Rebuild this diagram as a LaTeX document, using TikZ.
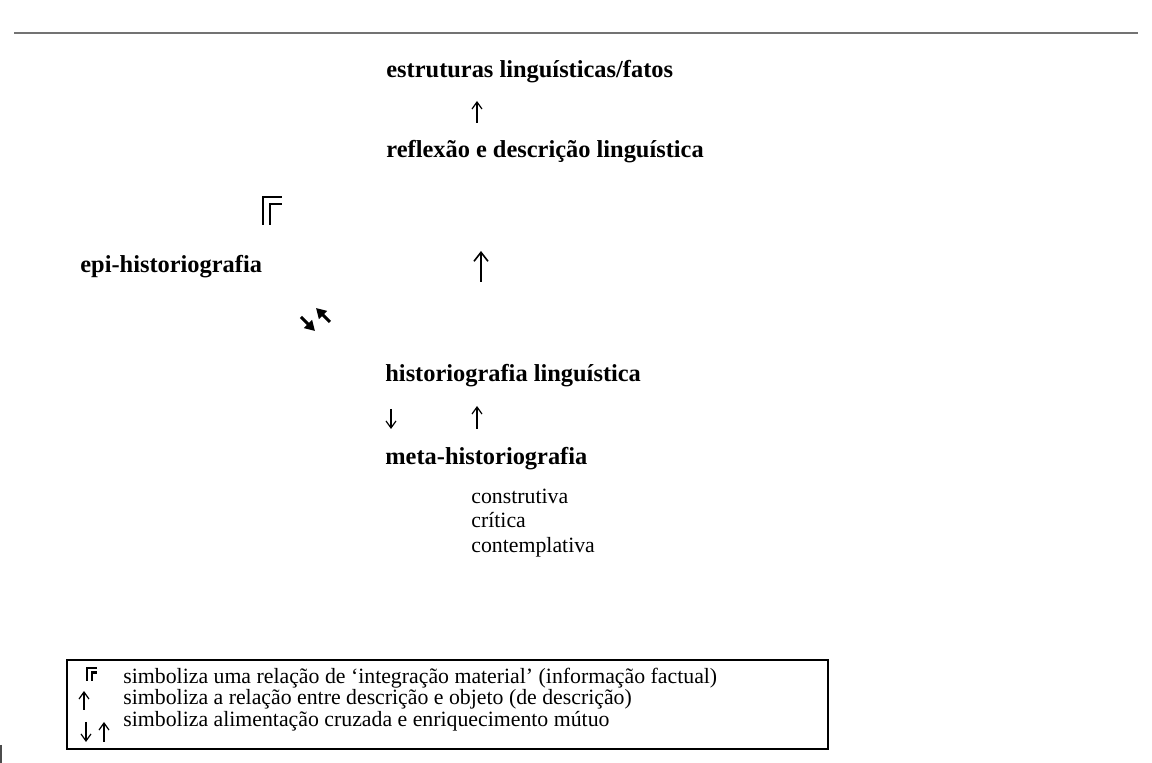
\documentclass[tikz,border=0pt]{standalone}
\usepackage{fontspec}
\setmainfont{Liberation Serif}
\usetikzlibrary{arrows.meta}

\begin{document}
\begin{tikzpicture}[x=0.5pt, y=-0.5pt,
                    title/.style={anchor=base west, inner sep=0pt, font=\bfseries\fontsize{12.2}{14}\selectfont},
                    item/.style={anchor=base west, inner sep=0pt, font=\fontsize{10.9}{13}\selectfont},
                    thinarrow/.style={line width=0.6pt, -{Straight Barb[length=3.5pt,width=5pt]}},
                    bigarrow/.style={line width=0.8pt, -{Straight Barb[length=4.5pt,width=7pt]}},
                    crossarrow/.style={line width=1.5pt, -{Triangle[length=5pt,width=5.5pt]}},
                    corner/.style={line width=1.4pt, line cap=butt, line join=miter}]
  \useasboundingbox (0,0) rectangle (1152,763);
  \draw[line width=1pt, black!55] (14,33) -- (1138,33);
  % levels
  \node[title] (fatos) at (386,78) {estruturas linguísticas/fatos};
  \node[title] (reflexao) at (386,158) {reflexão e descrição linguística};
  \node[title] (epi) at (80,273) {epi-historiografia};
  \node[title] (histling) at (385,382) {historiografia linguística};
  \node[title] (meta) at (385,465) {meta-historiografia};
  \node[item] (construtiva) at (471,504) {construtiva};
  \node[item] (critica) at (471,528) {crítica};
  \node[item] (contemplativa) at (471,553) {contemplativa};
  % arrows
  \coordinate (up1s) at (477,123);
  \coordinate (up1e) at (477,101);
  \draw[thinarrow] (up1s) -- (up1e);
  \coordinate (up2s) at (481,282);
  \coordinate (up2e) at (481,251);
  \draw[bigarrow] (up2s) -- (up2e);
  \coordinate (dgs) at (301,317);
  \coordinate (dge) at (315,331);
  \draw[crossarrow] (dgs) -- (dge);
  \coordinate (ugs) at (330,322);
  \coordinate (uge) at (316,308);
  \draw[crossarrow] (ugs) -- (uge);
  \coordinate (dns) at (391,409);
  \coordinate (dne) at (391,429);
  \draw[thinarrow] (dns) -- (dne);
  \coordinate (up3s) at (477,429);
  \coordinate (up3e) at (477,406);
  \draw[thinarrow] (up3s) -- (up3e);
  % integration mark
  \draw[corner] (263,225) |- (282,197);
  \draw[corner] (270,225) |- (282,204);
  % legend
  \draw[line width=0.6pt] (67,660) rectangle (828,749);
  \draw[line width=1.1pt, line cap=butt] (87,681) |- (97,668);
  \draw[line width=1.1pt, line cap=butt] (92,681) |- (97,672.5);
  \node[item] (leg1) at (123,684) {simboliza uma relação de ‘integração material’ (informação factual)};
  \coordinate (lup1s) at (84,710);
  \coordinate (lup1e) at (84,691);
  \draw[thinarrow] (lup1s) -- (lup1e);
  \node[item] (leg2) at (123,705) {simboliza a relação entre descrição e objeto (de descrição)};
  \coordinate (ldns) at (86,722);
  \coordinate (ldne) at (86,742);
  \draw[thinarrow] (ldns) -- (ldne);
  \coordinate (lup2s) at (104,742);
  \coordinate (lup2e) at (104,722);
  \draw[thinarrow] (lup2s) -- (lup2e);
  \node[item] (leg3) at (123,727) {simboliza alimentação cruzada e enriquecimento mútuo};
  \draw[line width=1pt, black!70] (1,745) -- (1,763);
\end{tikzpicture}
\end{document}
